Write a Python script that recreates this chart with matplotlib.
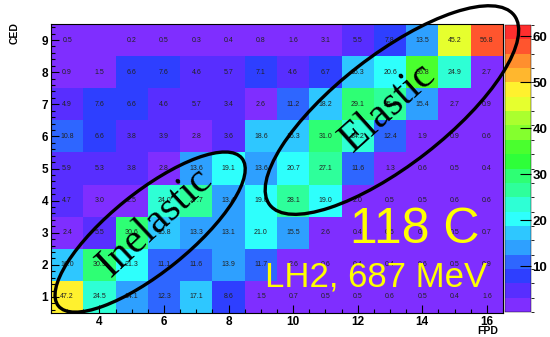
import colorsys
import numpy as np
import matplotlib
matplotlib.use("Agg")
import matplotlib.pyplot as plt
from matplotlib.colors import ListedColormap, BoundaryNorm
from matplotlib.patches import Ellipse
from matplotlib.ticker import MultipleLocator, FixedLocator

# FPD detector index (x) and CED detector index (y)
fpd = np.arange(3, 17)
ced = np.arange(1, 10)

# Coincidence rates per (CED, FPD) cell, one list per CED row
ced1 = [47.2, 24.5, 14.1, 12.3, 17.1, 8.6, 1.5, 0.7, 0.5, 0.5, 0.6, 0.5, 0.4, 1.6]
ced2 = [16.0, 30.9, 21.3, 11.1, 11.6, 13.9, 11.7, 2.6, 0.6, 0.4, 0.4, 0.6, 0.5, 0.9]
ced3 = [2.4, 5.5, 30.6, 15.8, 13.3, 13.1, 21.0, 15.5, 2.6, 0.4, 0.5, 0.5, 0.5, 0.7]
ced4 = [4.7, 3.0, 2.5, 24.0, 27.7, 13.4, 19.0, 28.1, 19.0, 2.0, 0.5, 0.5, 0.6, 0.6]
ced5 = [5.9, 5.3, 3.8, 2.8, 13.6, 19.1, 13.6, 20.7, 27.1, 11.6, 1.3, 0.6, 0.5, 0.4]
ced6 = [10.8, 6.6, 3.8, 3.9, 2.8, 3.6, 18.6, 16.3, 31.0, 24.2, 12.4, 1.9, 0.9, 0.6]
ced7 = [4.9, 7.6, 6.6, 4.6, 5.7, 3.4, 2.6, 11.2, 18.2, 29.1, 25.8, 15.4, 2.7, 0.9]
ced8 = [0.9, 1.5, 6.6, 7.6, 4.6, 5.7, 7.1, 4.6, 6.7, 16.3, 20.6, 36.8, 24.9, 2.7]
ced9 = [0.5, 0.0, 0.2, 0.5, 0.3, 0.4, 0.8, 1.6, 3.1, 5.5, 7.8, 13.5, 45.2, 56.8]

x_ticks = [4, 6, 8, 10, 12, 14, 16]
z_ticks = [10, 20, 30, 40, 50, 60]

Z = np.array([ced1, ced2, ced3, ced4, ced5, ced6, ced7, ced8, ced9])

# ROOT-style "pretty" palette: 50 HLS hues from violet to red, sampled by 20 contours
n_pal, n_lev = 50, 20
pal = []
for i in range(n_pal):
    hue = 280.0 - (i + 1) * (280.0 / n_pal)
    r, g, b = colorsys.hls_to_rgb(hue / 360.0, 0.5, 1.0)
    # soften slightly toward white
    pal.append(tuple(0.82 * c + 0.18 for c in (r, g, b)))
level_cols = [pal[int((k + 0.99) * n_pal / n_lev)] for k in range(n_lev)]
cmap = ListedColormap(level_cols)
zmax = Z.max() * 1.1
norm = BoundaryNorm(np.linspace(0, zmax, n_lev + 1), n_lev)

fig = plt.figure(figsize=(5.5, 3.37), dpi=100)
ax = fig.add_axes([51 / 550, 24 / 337, 452 / 550, 289 / 337])
cax = fig.add_axes([505 / 550, 25 / 337, 26 / 550, 287 / 337])

x_edges = np.append(fpd - 0.5, fpd[-1] + 0.5)
y_edges = np.append(ced - 0.5, ced[-1] + 0.5)
mesh = ax.pcolormesh(x_edges, y_edges, Z, cmap=cmap, norm=norm)

for j, yv in enumerate(ced):
    for i, xv in enumerate(fpd):
        v = Z[j, i]
        if v > 0:
            ax.text(xv, yv, f"{v:.1f}", ha="center", va="center",
                    fontsize=5, color="#222222", family="Liberation Sans")

ax.set_xlim(x_edges[0], x_edges[-1])
ax.set_ylim(y_edges[0], y_edges[-1])
ax.xaxis.set_major_locator(FixedLocator(x_ticks))
ax.xaxis.set_minor_locator(MultipleLocator(0.5))
ax.yaxis.set_major_locator(FixedLocator(list(ced)))
ax.yaxis.set_minor_locator(MultipleLocator(0.2))
ax.tick_params(which="both", direction="in", top=False, right=False, width=0.8)
ax.tick_params(which="major", length=6, labelsize=8.5, pad=2)
ax.tick_params(which="minor", length=3)
for lab in ax.get_xticklabels() + ax.get_yticklabels():
    lab.set_fontweight("bold")
    lab.set_family("Liberation Sans")
for s in ax.spines.values():
    s.set_linewidth(0.8)

cb = fig.colorbar(mesh, cax=cax, ticks=z_ticks)
cb.outline.set_linewidth(0.3)
cax.tick_params(direction="in", length=8, width=0.8, labelsize=9.5, pad=1, colors="black")
for lab in cax.get_yticklabels():
    lab.set_fontweight("bold")
    lab.set_family("Liberation Sans")

# Selection ellipses drawn over the map
ax.add_patch(Ellipse((5.57, 3.02), 7.31, 2.48, angle=39, fill=False,
                     ec="black", lw=2.4, clip_on=False, zorder=5))
ax.add_patch(Ellipse((13.06, 6.82), 9.6, 3.42, angle=38, fill=False,
                     ec="black", lw=2.4, clip_on=False, zorder=5))
ax.set_zorder(3)

ax.text(5.72, 3.33, "Inelastic", rotation=43, rotation_mode="anchor",
        ha="center", va="center", fontsize=30, family="Liberation Serif",
        color="black", zorder=6)
ax.text(12.93, 6.91, "Elastic", rotation=42, rotation_mode="anchor",
        ha="center", va="center", fontsize=30, family="Liberation Serif",
        color="black", zorder=6)
ax.text(13.77, 2.68, "118 C", ha="center", va="baseline", fontsize=36,
        family="Liberation Sans", color="#ffff00", zorder=6)
ax.text(12.56, 1.31, "LH2, 687 MeV", ha="center", va="baseline", fontsize=25,
        family="Liberation Sans", color="#ffff00", zorder=6)

fig.text(15 / 550, 1 - 33 / 337, "CED", rotation=90, ha="center", va="center",
         fontsize=7.5, fontweight="bold", family="Liberation Sans")
fig.text(488 / 550, 6 / 337, "FPD", ha="center", va="center",
         fontsize=7.5, fontweight="bold", family="Liberation Sans")

fig.savefig("out.png", dpi=100)
